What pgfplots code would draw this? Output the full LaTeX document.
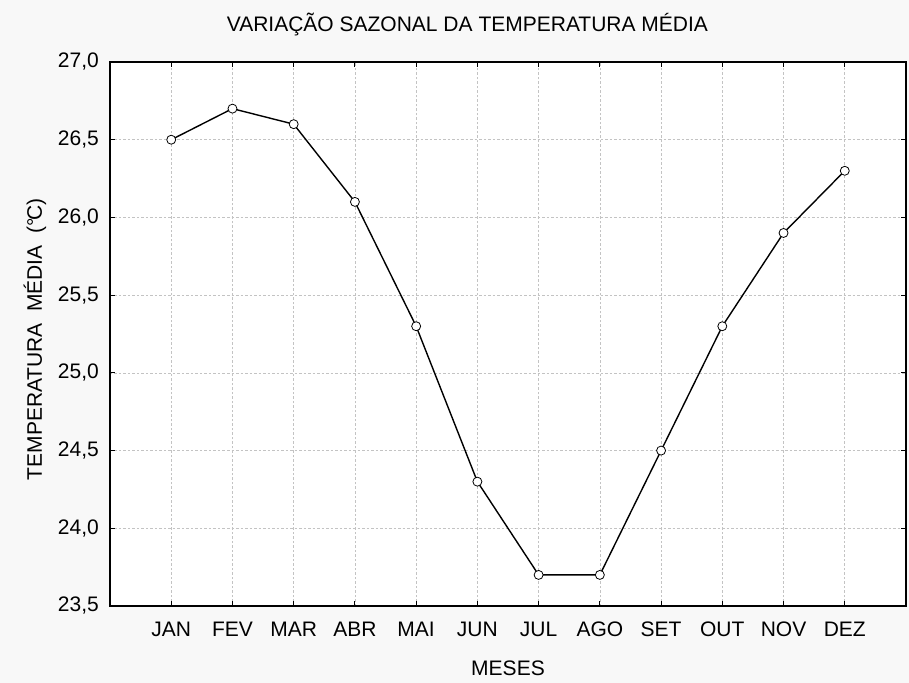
\documentclass[border=0pt]{standalone}
\usepackage{fontspec}
\setmainfont{Liberation Sans}
\usepackage{pgfplots}
\pgfplotsset{compat=1.18}
\definecolor{bgcol}{RGB}{248,248,248}
\definecolor{gridcol}{RGB}{195,195,195}
\begin{document}
\fontsize{21bp}{25bp}\selectfont
\begin{tikzpicture}
\fill[bgcol] (-110bp,-77bp) rectangle (799bp,606bp);
\begin{axis}[
  at={(0,0)}, anchor=south west,
  scale only axis, width=796bp, height=544bp,
  xmin=-1, xmax=12, ymin=23.5, ymax=27,
  xtick={0,1,2,3,4,5,6,7,8,9,10,11},
  xticklabels={JAN,FEV,MAR,ABR,MAI,JUN,JUL,AGO,SET,OUT,NOV,DEZ},
  ytick={23.5,24.0,24.5,25.0,25.5,26.0,26.5,27.0},
  /pgf/number format/assume math mode=true,
  /pgf/number format/.cd, fixed, fixed zerofill, precision=1, use comma, /pgfplots/.cd,
  scaled y ticks=false,
  tick align=inside, major tick length=5bp,
  tick style={black, line width=1bp},
  axis line style={black, line width=1.6bp},
  axis background/.style={fill=white},
  grid=major,
  major grid style={gridcol, line width=0.6bp, dash pattern=on 2.5bp off 2bp},
  xticklabel style={anchor=base, yshift=-30bp, font=\fontsize{21bp}{25bp}\selectfont},
  yticklabel style={anchor=east, xshift=-4bp, font=\fontsize{21bp}{25bp}\selectfont},
  title={VARIAÇÃO SAZONAL DA TEMPERATURA MÉDIA},
  title style={at={(axis description cs:0.449,1)}, anchor=base, yshift=25bp, font=\fontsize{21bp}{25bp}\selectfont},
  xlabel={MESES},
  xlabel style={at={(axis description cs:0.5,0)}, anchor=base, yshift=-69bp, font=\fontsize{21bp}{25bp}\selectfont},
  ylabel={TEMPERATURA\hspace{0.55em}MÉDIA\hspace{0.55em}(°\kern-0.12em C)},
  ylabel style={at={(axis description cs:-0.0942,0.49)}, anchor=center, font=\fontsize{21bp}{25bp}\selectfont},
]
\addplot[black, line width=1.4bp, mark=*, mark size=4.5bp,
  mark options={fill=white, draw=black, line width=0.8bp}]
  coordinates {
  (0,26.5) (1,26.7) (2,26.6) (3,26.1) (4,25.3) (5,24.3)
  (6,23.7) (7,23.7) (8,24.5) (9,25.3) (10,25.9) (11,26.3)
  };
\end{axis}
\end{tikzpicture}
\end{document}
